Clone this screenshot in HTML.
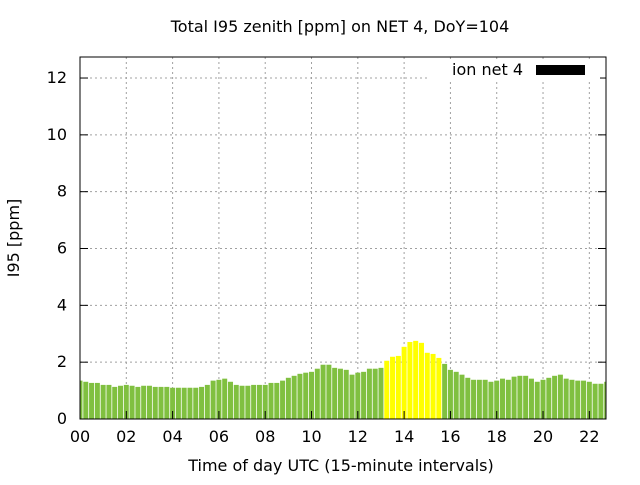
<!DOCTYPE html>
<html><head><meta charset="utf-8"><style>
body{margin:0;background:#fff;}
svg text{font-family:"DejaVu Sans","Liberation Sans",sans-serif;font-size:16px;fill:#000;}
</style></head><body>
<svg id="chart" width="640" height="480" xmlns="http://www.w3.org/2000/svg">
<rect width="640" height="480" fill="#fff"/>
<text x="340" y="32" text-anchor="middle">Total I95 zenith [ppm] on NET 4, DoY=104</text>
<g id="grid"></g>
<g id="bars"></g>
<g id="axes"></g>
<rect x="428" y="60" width="172" height="20" fill="#fff"/>
<text x="523" y="75" text-anchor="end">ion net 4</text>
<rect x="536" y="65" width="49" height="10" fill="#000"/>
<text x="341" y="471" text-anchor="middle">Time of day UTC (15-minute intervals)</text>
<text transform="translate(19,238) rotate(-90)" text-anchor="middle">I95 [ppm]</text>
</svg>
<script>
const values=[1.35,1.31,1.27,1.27,1.2,1.2,1.13,1.17,1.2,1.17,1.13,1.17,1.17,1.13,1.13,1.13,1.1,1.1,1.1,1.1,1.1,1.13,1.2,1.35,1.38,1.42,1.31,1.2,1.17,1.17,1.2,1.2,1.2,1.27,1.27,1.35,1.45,1.52,1.59,1.63,1.66,1.77,1.91,1.91,1.8,1.77,1.73,1.56,1.63,1.66,1.77,1.77,1.8,2.05,2.19,2.22,2.54,2.71,2.75,2.68,2.33,2.29,2.15,1.94,1.73,1.66,1.56,1.45,1.38,1.38,1.38,1.31,1.35,1.42,1.38,1.49,1.52,1.52,1.42,1.31,1.38,1.45,1.52,1.56,1.42,1.38,1.35,1.35,1.31,1.24,1.24,1.31];
const highlight=[53,54,55,56,57,58,59,60,61,62];
const xTicks=[0,2,4,6,8,10,12,14,16,18,20,22];
const yTicks=[0,2,4,6,8,10,12];
const L=80,R=606,T=57,B=419,XMAX=22.72,YMAX=12.74;
const xs=h=>L+h/XMAX*(R-L);
const ys=v=>B-v/YMAX*(B-T);
const NS="http://www.w3.org/2000/svg";
function mk(tag,attrs,parent){const e=document.createElementNS(NS,tag);for(const k in attrs)e.setAttribute(k,attrs[k]);document.getElementById(parent).appendChild(e);return e;}
yTicks.forEach(v=>{
 if(v>0){const g=mk('line',{x1:L,x2:R,y1:ys(v),y2:ys(v),stroke:'#a0a0a0','stroke-dasharray':'2,3'},'grid');
 
 }
 const t=mk('line',{x1:L,x2:L+8,y1:ys(v),y2:ys(v),stroke:'#000'},'axes');
 
 
 const t2=mk('line',{x1:R-8,x2:R,y1:ys(v),y2:ys(v),stroke:'#000'},'axes');
 
 
 const l=mk('text',{x:L-13,y:ys(v)+5,'text-anchor':'end'},'axes');l.textContent=v;
 
 
});
xTicks.forEach(h=>{
 if(h>0){const g=mk('line',{x1:xs(h),x2:xs(h),y1:T,y2:B,stroke:'#a0a0a0','stroke-dasharray':'2,3'},'grid');
 
 }
 const t=mk('line',{x1:xs(h),x2:xs(h),y1:B,y2:B-8,stroke:'#000'},'axes');
 
 
 const l=mk('text',{x:xs(h),y:B+23,'text-anchor':'middle'},'axes');l.textContent=String(h).padStart(2,'0');
 
 
});
values.forEach((v,i)=>{
 const c=xs(i*0.25);let x0=Math.max(L,c-2.5),x1=Math.min(R,c+2.5);
 const b=mk('rect',{x:x0,y:ys(v),width:Math.max(0,x1-x0),height:B-ys(v),fill:highlight.includes(i)?'#ffff00':'#80c040'},'bars');
 
 
});
const f=mk('rect',{x:L,y:T,width:R-L,height:B-T,fill:'none',stroke:'#000','stroke-width':1},'axes');


</script>
</body></html>
